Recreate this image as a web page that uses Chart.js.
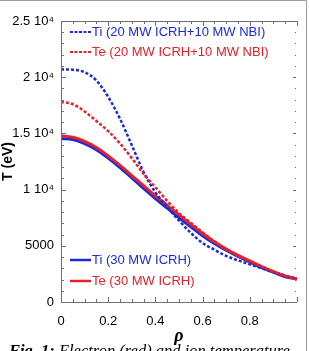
<!DOCTYPE html>
<html>
<head>
<meta charset="utf-8">
<script src="https://cdn.jsdelivr.net/npm/chart.js@4/dist/chart.umd.min.js"></script>
<style>
  html, body { margin: 0; padding: 0; background: #fff; overflow: hidden; }
  #wrap { position: relative; width: 309px; height: 351px; }
</style>
</head>
<body>
<div id="wrap"><canvas id="tempChart" width="309" height="351"></canvas></div>
<script>
// radial coordinate rho
var rho = [0, 0.05, 0.1, 0.15, 0.2, 0.25, 0.3, 0.35, 0.4, 0.45, 0.5,
           0.55, 0.6, 0.65, 0.7, 0.75, 0.8, 0.85, 0.9, 0.95, 1.0];
// temperatures in eV
var tiNbi = [20700, 20660, 20450, 19700, 18250, 16300, 13950, 11550, 9750, 8450, 7250,
             6150, 5250, 4650, 4100, 3700, 3350, 3000, 2650, 2350, 2050];
var teNbi = [17800, 17600, 16950, 16100, 15200, 14100, 12800, 11400, 10200, 9000, 7900,
             7050, 6200, 5400, 4700, 4100, 3600, 3150, 2700, 2350, 2050];
var tiIcrh = [14550, 14450, 14100, 13550, 12800, 11950, 11050, 10100, 9200, 8350, 7500,
              6700, 5900, 5200, 4600, 4050, 3550, 3050, 2650, 2250, 2050];
var teIcrh = [14800, 14650, 14300, 13750, 13000, 12150, 11250, 10350, 9450, 8600, 7750,
              6900, 6100, 5350, 4700, 4150, 3650, 3150, 2700, 2300, 2050];

var seriesLabels = ["Ti (20 MW ICRH+10 MW NBI)", "Te (20 MW ICRH+10 MW NBI)",
                    "Ti (30 MW ICRH)", "Te (30 MW ICRH)"];
var xTickLabels = ["0", "0.2", "0.4", "0.6", "0.8"];
var yTickLabels = ["0", "5000", "1 10\u2074", "1.5 10\u2074", "2 10\u2074", "2.5 10\u2074"];

var BLUE = "#1c2ad6";
var RED = "#e2222a";

function pts(ys) {
  return rho.map(function (r, i) { return {x: r, y: ys[i]}; });
}

// where the two legend groups sit inside the plot
var legendSpots = [
  {x: 70, y: 32}, {x: 70, y: 52}, {x: 70, y: 260}, {x: 70, y: 281}
];

var boxPlugin = {
  id: 'box',
  afterDraw: function (chart) {
    var ctx = chart.ctx, a = chart.chartArea;
    var x = chart.scales.x, y = chart.scales.y;
    ctx.save();
    ctx.strokeStyle = '#6f6f6f';
    ctx.lineWidth = 1;
    ctx.beginPath();
    ctx.moveTo(a.left + 0.5, a.top + 0.5);
    ctx.lineTo(a.left + 0.5, a.bottom + 0.5);
    ctx.lineTo(a.right, a.bottom + 0.5);
    ctx.moveTo(a.left, a.top + 0.5);
    ctx.lineTo(a.right, a.top + 0.5);
    // y ticks, left and right
    for (var v = 0; v <= 25000; v += 1000) {
      var py = Math.round(y.getPixelForValue(v)) + 0.5;
      var len = v % 5000 === 0 ? 5 : 3;
      ctx.moveTo(a.left, py); ctx.lineTo(a.left + len, py);
      ctx.moveTo(a.right - 1, py); ctx.lineTo(a.right - 1 - (len - 2), py);
    }
    // x ticks, bottom and top
    for (var k = 0; k <= 20; k++) {
      var px = Math.round(x.getPixelForValue(k * 0.05)) + 0.5;
      var l2 = k % 4 === 0 ? 5 : 3;
      ctx.moveTo(px, a.bottom); ctx.lineTo(px, a.bottom - l2);
      ctx.moveTo(px, a.top); ctx.lineTo(px, a.top + l2);
    }
    ctx.stroke();

    // legend
    ctx.font = '13px "Liberation Sans", Arial, sans-serif';
    ctx.textBaseline = 'middle';
    chart.data.datasets.forEach(function (ds, i) {
      var s = legendSpots[i];
      ctx.strokeStyle = ds.borderColor;
      ctx.lineWidth = ds.borderDash ? 2 : 2.5;
      ctx.setLineDash(ds.borderDash ? [3, 1.5] : []);
      ctx.beginPath();
      ctx.moveTo(s.x, s.y); ctx.lineTo(s.x + 21, s.y);
      ctx.stroke();
      ctx.setLineDash([]);
      ctx.fillStyle = ds.borderColor;
      ctx.fillText(ds.label, s.x + 22, s.y + 0.5);
    });

    // figure frame and caption
    ctx.strokeStyle = '#9a9a9a';
    ctx.lineWidth = 1;
    ctx.beginPath();
    ctx.moveTo(0, 0.5); ctx.lineTo(306.5, 0.5); ctx.lineTo(306.5, 351);
    ctx.stroke();
    ctx.fillStyle = '#000';
    ctx.textBaseline = 'alphabetic';
    ctx.font = 'italic bold 16.5px "Liberation Serif", serif';
    ctx.fillText('Fig. 1:', 9, 356);
    var w = ctx.measureText('Fig. 1: ').width;
    ctx.font = 'italic 16.5px "Liberation Serif", serif';
    ctx.fillText('Electron (red) and ion temperature', 9 + w, 356);
    ctx.restore();
  }
};

var ctxT = document.getElementById("tempChart").getContext('2d');
var tempChart = new Chart(ctxT, {
  type: 'line',
  data: {
    datasets: [
      {label: seriesLabels[0], data: pts(tiNbi), borderColor: BLUE, borderWidth: 2.5, borderDash: [3, 2], order: 2},
      {label: seriesLabels[1], data: pts(teNbi), borderColor: RED, borderWidth: 2.5, borderDash: [3, 2], order: 1},
      {label: seriesLabels[2], data: pts(tiIcrh), borderColor: BLUE, borderWidth: 3, order: 4},
      {label: seriesLabels[3], data: pts(teIcrh), borderColor: RED, borderWidth: 3, order: 3}
    ]
  },
  options: {
    responsive: false,
    animation: false,
    devicePixelRatio: 1,
    layout: {padding: {top: 21, right: 9, left: 0, bottom: 0}},
    elements: {point: {radius: 0}, line: {tension: 0.4, cubicInterpolationMode: 'monotone'}},
    plugins: {legend: {display: false}, tooltip: {enabled: false}},
    scales: {
      x: {
        type: 'linear', min: 0, max: 1,
        grid: {display: false, drawTicks: false},
        border: {display: false},
        ticks: {
          stepSize: 0.2, padding: 12, color: '#000',
          font: {family: '"Liberation Sans", Arial, sans-serif', size: 13},
          callback: function (v, i) { return xTickLabels[i] || ''; }
        },
        title: {
          display: true, text: 'ρ', color: '#000', padding: {top: 0, bottom: 4},
          font: {family: '"Liberation Serif", serif', size: 18, style: 'italic', weight: 'bold'}
        },
        afterFit: function (s) { s.height = 49; }
      },
      y: {
        min: 0, max: 25000,
        grid: {display: false, drawTicks: false},
        border: {display: false},
        ticks: {
          stepSize: 5000, padding: 7, color: '#000',
          font: {family: '"Liberation Sans", Arial, sans-serif', size: 13},
          callback: function (v, i) { return yTickLabels[i]; }
        },
        title: {
          display: true, text: 'T (eV)', color: '#000', padding: {top: 0, bottom: 0},
          font: {family: '"Liberation Sans", Arial, sans-serif', size: 14, weight: 'bold'}
        },
        afterFit: function (s) { s.width = 61; }
      }
    }
  },
  plugins: [boxPlugin]
});
</script>
</body>
</html>
